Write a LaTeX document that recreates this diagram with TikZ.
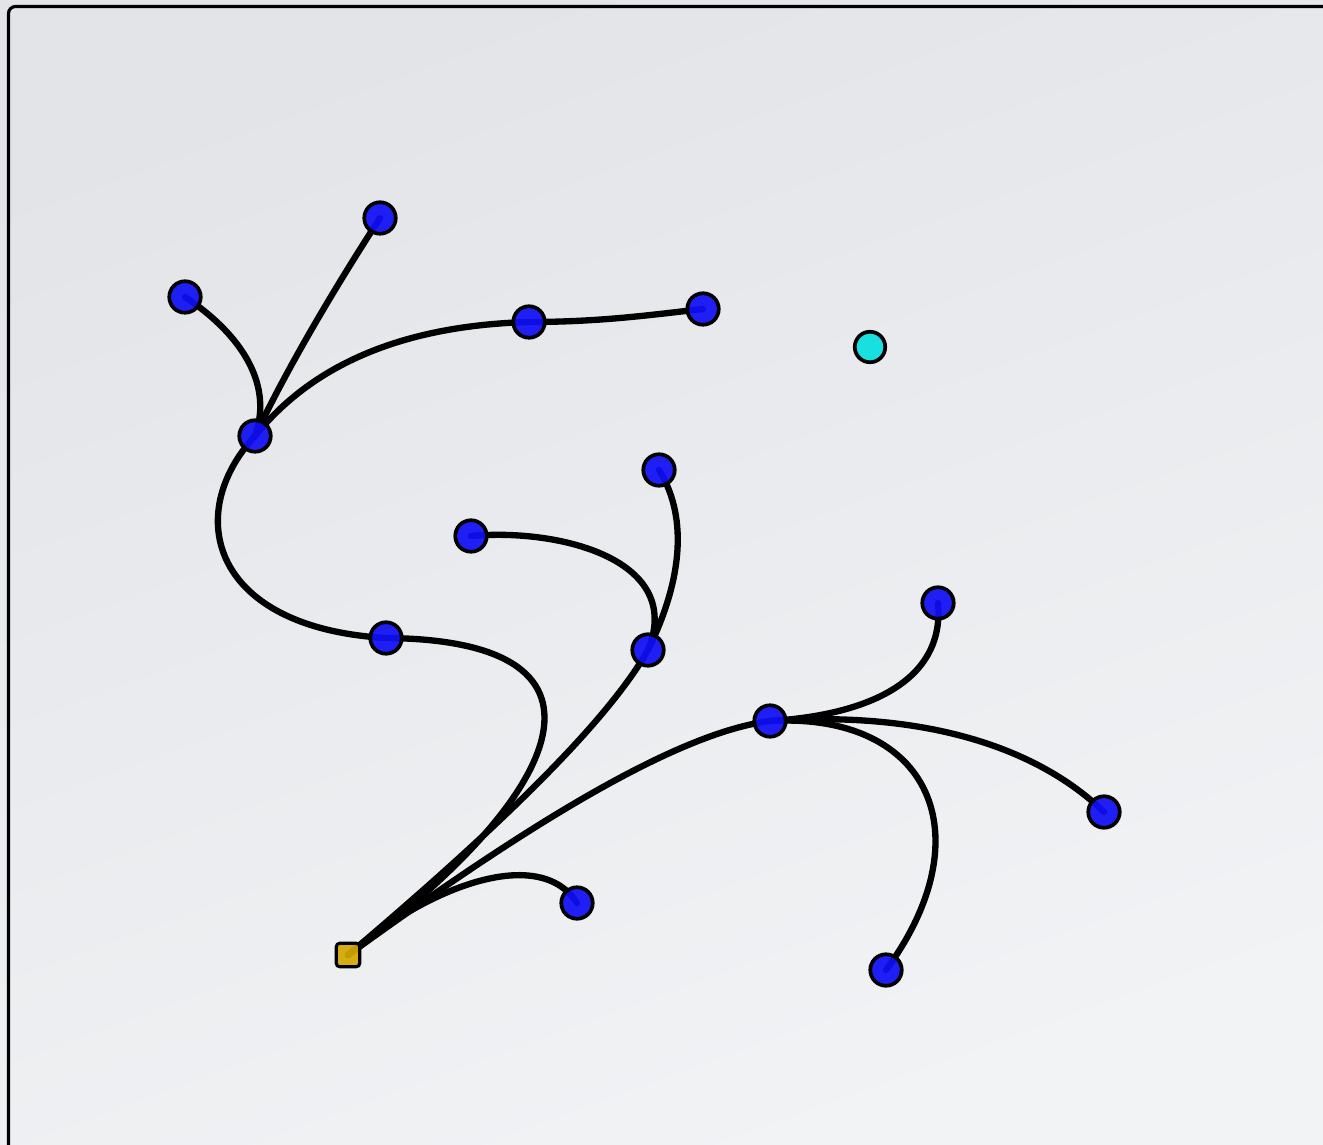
\documentclass[tikz,border=0pt]{standalone}
\usetikzlibrary{backgrounds}
\definecolor{bgtop}{HTML}{E2E4E8}
\definecolor{bgbot}{HTML}{F2F3F5}
\definecolor{leaffill}{HTML}{1010F6}
\definecolor{rootfill}{HTML}{D4A800}
\definecolor{lonefill}{HTML}{18E0E0}
\definecolor{ink}{HTML}{000000}

\begin{document}
\begin{tikzpicture}[x=0.02cm,y=-0.02cm,
  leaf/.style={circle,draw=ink,line width=2.1pt,fill=leaffill,fill opacity=0.93,minimum size=0.63cm,inner sep=0pt},
  rootbox/.style={rectangle,rounded corners=2pt,draw=ink,line width=1.8pt,fill=rootfill,fill opacity=0.92,minimum size=0.47cm,inner sep=0pt},
  lone/.style={circle,draw=ink,line width=2.1pt,fill=lonefill,minimum size=0.61cm,inner sep=0pt},
  branch/.style={line width=3.6pt,ink,line cap=round}]
  \useasboundingbox (0,0) rectangle (1323,1145);

  % ===== nodes =====
  \node[rootbox] (root) at (348,955) {};
  \node[leaf] (a) at (386,638) {};
  \node[leaf] (b) at (255,436) {};
  \node[leaf] (c) at (185,297) {};
  \node[leaf] (d) at (380,218) {};
  \node[leaf] (e) at (529,322) {};
  \node[leaf] (f) at (703,309) {};
  \node[leaf] (g) at (648,650) {};
  \node[leaf] (h) at (471,536) {};
  \node[leaf] (i) at (659,470) {};
  \node[leaf] (j) at (770,721) {};
  \node[leaf] (k) at (938,603) {};
  \node[leaf] (l) at (1104,812) {};
  \node[leaf] (m) at (886,970) {};
  \node[leaf] (n) at (577,903) {};
  \node[lone] (q) at (870,347) {};

  \begin{scope}[on background layer]
    % ===== backdrop and frame =====
    \shade[top color=bgtop,bottom color=bgbot,shading angle=20] (0,0) rectangle (1323,1145);
    \clip (0,0) rectangle (1323,1145);
    \draw[ink,line width=1.8pt,rounded corners=4pt] (8.5,6.5) rectangle (1360,1180);

    % ===== branches =====
    \draw[branch] (root.center) .. controls (560,800) and (640,640) .. (a.center);
    \draw[branch] (a.center) .. controls (212,628) and (182,515) .. (b.center);
    \draw[branch] (b.center) .. controls (275,380) and (235,330) .. (c.center);
    \draw[branch] (b.center) .. controls (292,358) and (345,272) .. (d.center);
    \draw[branch] (b.center) .. controls (320,355) and (420,325) .. (e.center);
    \draw[branch] (e.center) .. controls (600,322) and (650,315) .. (f.center);
    \draw[branch] (root.center) .. controls (460,860) and (600,735) .. (g.center);
    \draw[branch] (g.center) .. controls (685,560) and (560,528) .. (h.center);
    \draw[branch] (g.center) .. controls (680,585) and (690,520) .. (i.center);
    \draw[branch] (root.center) .. controls (480,860) and (660,735) .. (j.center);
    \draw[branch] (j.center) .. controls (870,715) and (945,680) .. (k.center);
    \draw[branch] (j.center) .. controls (930,710) and (1040,750) .. (l.center);
    \draw[branch] (j.center) .. controls (930,712) and (985,835) .. (m.center);
    \draw[branch] (root.center) .. controls (430,885) and (540,845) .. (n.center);
  \end{scope}
\end{tikzpicture}
\end{document}
